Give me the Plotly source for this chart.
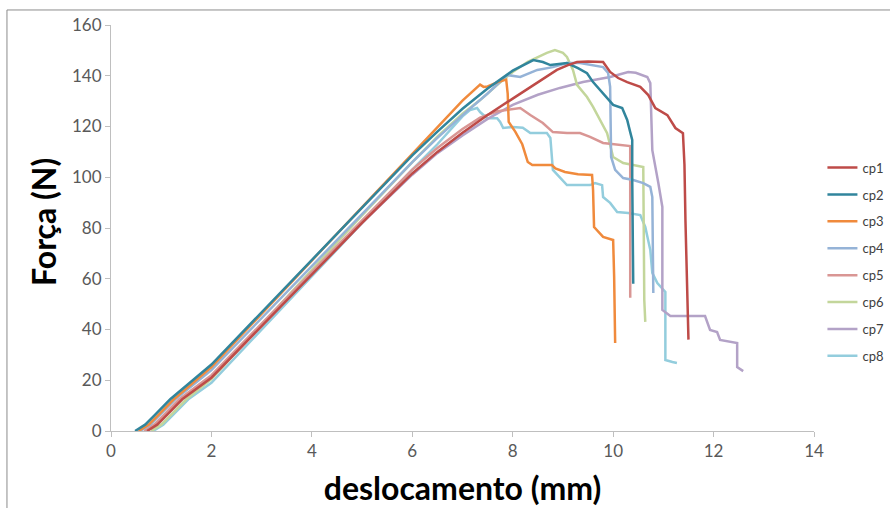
import plotly.graph_objects as go

# ---- data ----
cp1_x = [0.72, 0.92, 1.12, 1.42, 2.0, 3.0, 4.0, 5.0, 6.0, 6.5, 7.0, 7.5, 8.0, 8.5, 8.88, 9.1, 9.28, 9.5, 9.8,
         9.94, 10.10, 10.28, 10.54, 10.70, 10.84, 11.08, 11.24, 11.39, 11.42, 11.44, 11.47, 11.50]
cp1_y = [0, 2.5, 6.5, 12.5, 21, 41.4, 61.7, 82, 101.5, 110, 117.5, 124.5, 131, 137.5, 142.3, 144.2, 145.4, 145.6, 145.4,
         141.5, 139.1, 137.5, 135.6, 132.4, 127.3, 124.5, 119.4, 117.4, 105, 83, 60, 36]

cp2_x = [0.48, 0.68, 0.88, 1.18, 2.0, 3.0, 4.0, 5.0, 6.0, 6.5, 7.0, 7.5, 8.0, 8.41, 8.6, 8.75, 9.08, 9.3, 9.48,
         9.6, 9.8, 10.0, 10.18, 10.28, 10.34, 10.38, 10.38, 10.40]
cp2_y = [0, 2.5, 6.5, 12.5, 26.2, 46.8, 67.4, 88, 108.6, 118, 127, 135, 142, 146.2, 145.4, 144.2, 145, 143, 141,
         137.5, 133.2, 128.5, 127.3, 122.6, 117.8, 114.7, 100, 58]

cp3_x = [0.55, 0.75, 0.95, 1.25, 2.0, 3.0, 4.0, 5.0, 6.0, 7.0, 7.35, 7.42, 7.5, 7.7, 7.87, 7.9, 7.92, 8.05, 8.19,
         8.3, 8.39, 8.78, 8.85, 9.04, 9.3, 9.58, 9.6, 9.62, 9.8, 10.0, 10.02, 10.04]
cp3_y = [0, 2.5, 6.5, 12.5, 25.2, 46.2, 67.2, 88.2, 109.2, 130.2, 136.5, 135.6, 135.8, 137.5, 138.5, 133, 121.8, 118, 113,
         106, 104.8, 104.8, 103.5, 102.1, 101.2, 100.9, 95, 80.4, 76.5, 75.3, 60.7, 34.7]

cp4_x = [0.58, 0.78, 0.98, 1.28, 2.0, 3.0, 4.0, 5.0, 6.0, 6.5, 7.0, 7.5, 7.89, 8.15, 8.49, 8.8, 9.08, 9.34, 9.6,
         9.8, 9.9, 9.94, 9.96, 10.04, 10.2, 10.4, 10.6, 10.74, 10.78, 10.80]
cp4_y = [0, 2.5, 6.5, 12.5, 24, 44.5, 65, 85.5, 106, 115.5, 124.5, 133, 140.3, 139.5, 142.3, 143.4, 145, 145, 144.2,
         143.4, 141.1, 135.6, 108, 102.9, 99.7, 98.9, 97.7, 96.2, 92.2, 54.4]

cp5_x = [0.66, 0.86, 1.06, 1.36, 2.0, 3.0, 4.0, 5.0, 6.0, 6.5, 7.0, 7.35, 7.7, 8.0, 8.15, 8.35, 8.6, 8.8, 9.08,
         9.34, 9.54, 9.8, 10.14, 10.34, 10.34]
cp5_y = [0, 2.5, 6.5, 12.5, 22, 42.4, 62.7, 83, 103, 111.5, 119, 123.5, 126, 127, 127.3, 124.5, 121.4, 117.8, 117.4,
         117.4, 115.9, 113.5, 112.7, 112.3, 52.5]

cp6_x = [0.80, 1.0, 1.2, 1.5, 2.0, 3.0, 4.0, 5.0, 6.0, 6.5, 7.0, 7.35, 7.7, 8.0, 8.3, 8.68, 8.84, 9.0, 9.08, 9.2,
         9.28, 9.48, 9.6, 9.74, 9.88, 10.0, 10.2, 10.4, 10.6, 10.62, 10.64]
cp6_y = [0, 2.5, 6.5, 12.5, 20.5, 42, 63.5, 85, 106, 116, 125, 130.4, 136.5, 141.5, 145.5, 149, 150.1, 149, 147.4, 142.3,
         136.4, 131.6, 127.7, 122.6, 117.4, 108, 105.6, 104.8, 104, 51.6, 43]

cp7_x = [0.68, 0.88, 1.08, 1.38, 2.0, 3.0, 4.0, 5.0, 6.0, 6.5, 7.0, 7.5, 8.0, 8.5, 8.94, 9.4, 9.94, 10.3, 10.45,
         10.68, 10.74, 10.78, 10.90, 10.98, 10.98, 11.14, 11.83, 11.93, 12.07, 12.13, 12.47, 12.47, 12.59]
cp7_y = [0, 2.5, 6.5, 12.5, 21.5, 42, 62, 82, 101, 109.5, 116.5, 123, 128.5, 132.5, 135.2, 137.5, 139.5, 141.5, 141.2,
         139.5, 137.1, 110.7, 97.7, 88.3, 47.7, 45.3, 45.3, 39.8, 39.0, 35.9, 34.7, 25.2, 23.6]

cp8_x = [0.84, 1.04, 1.24, 1.54, 2.0, 3.0, 4.0, 5.0, 6.0, 6.5, 6.8, 7.0, 7.15, 7.29, 7.35, 7.49, 7.69, 7.75, 7.81,
         8.0, 8.2, 8.35, 8.68, 8.75, 8.8, 8.94, 9.08, 9.54, 9.64, 9.78, 9.8, 9.94, 10.08, 10.3, 10.54, 10.64,
         10.74, 10.78, 10.88, 11.04, 11.04, 11.18, 11.27]
cp8_y = [0, 2.5, 6.5, 12.5, 19, 40, 61, 82, 103, 113, 119.5, 124, 126.5, 127.3, 125.7, 123.3, 123.3, 121.8, 119.4,
         119.8, 119.5, 117.4, 117.4, 115.5, 102.9, 100.1, 96.9, 96.9, 97.7, 96.9, 92.2, 89.9, 86.3, 85.9, 85.1, 80.4,
         71.3, 62.3, 58.3, 54.8, 28, 27.2, 26.8]

series_names = ["cp1", "cp2", "cp3", "cp4", "cp5", "cp6", "cp7", "cp8"]
series_x = [cp1_x, cp2_x, cp3_x, cp4_x, cp5_x, cp6_x, cp7_x, cp8_x]
series_y = [cp1_y, cp2_y, cp3_y, cp4_y, cp5_y, cp6_y, cp7_y, cp8_y]
colors = ["#BE4B48", "#31859C", "#F08A3C", "#95B3D7", "#D99694", "#C3D69B", "#B3A2C7", "#93CDDD"]

x_ticks = [0, 2, 4, 6, 8, 10, 12, 14]
y_ticks = [0, 20, 40, 60, 80, 100, 120, 140, 160]

fig = go.Figure()
# draw in reverse so cp1 ends up on top; legendrank keeps cp1 first in the legend
for i, (name, xs, ys, c) in list(enumerate(zip(series_names, series_x, series_y, colors)))[::-1]:
    fig.add_trace(go.Scatter(x=xs, y=ys, name=name, mode="lines", legendrank=i + 1,
                             line=dict(color=c, width=2.5), legendgroup=name))

fig.update_layout(
    width=890, height=508,
    margin=dict(l=111, r=76, t=25, b=77, autoexpand=False),
    paper_bgcolor="white", plot_bgcolor="white",
    font=dict(family="Lato, Calibri, sans-serif", color="#404040"),
    showlegend=True,
    legend=dict(x=1.012, xanchor="left", y=0.416, yanchor="middle",
                traceorder="grouped", tracegroupgap=7,
                font=dict(size=13, color="#404040"), bgcolor="rgba(0,0,0,0)"),
    shapes=[dict(type="rect", xref="paper", yref="paper", x0=-0.148, x1=2.0, y0=-1.0, y1=1.037,
                 line=dict(color="#8C8C8C", width=1), fillcolor="rgba(0,0,0,0)", layer="below")],
    annotations=[dict(text="<b>Força (N)</b>", xref="paper", yref="paper", x=-0.0953, y=0.515,
                      xanchor="center", yanchor="middle", textangle=-90, showarrow=False,
                      font=dict(size=32, color="#000000"))],
)
fig.update_xaxes(range=[0, 14], tickvals=x_ticks, ticks="outside", ticklen=5, tickcolor="#BFBFBF",
                 showline=True, linecolor="#BFBFBF", linewidth=1, showgrid=False, zeroline=False,
                 automargin=False, tickfont=dict(size=17, color="#595959"),
                 title=dict(text="<b>deslocamento (mm)</b>", font=dict(size=32, color="#000000"), standoff=17))
fig.update_yaxes(range=[0, 160], tickvals=y_ticks, ticks="outside", ticklen=5, tickcolor="#BFBFBF",
                 showline=True, linecolor="#BFBFBF", linewidth=1, showgrid=False, zeroline=False,
                 automargin=False, tickfont=dict(size=17, color="#595959"))

# remove the page's default body margin so the 890x508 figure fills the window exactly
fig.write_html("out.html", config={"displayModeBar": False},
               post_script="document.body.style.margin='0';document.body.style.overflow='hidden';")
